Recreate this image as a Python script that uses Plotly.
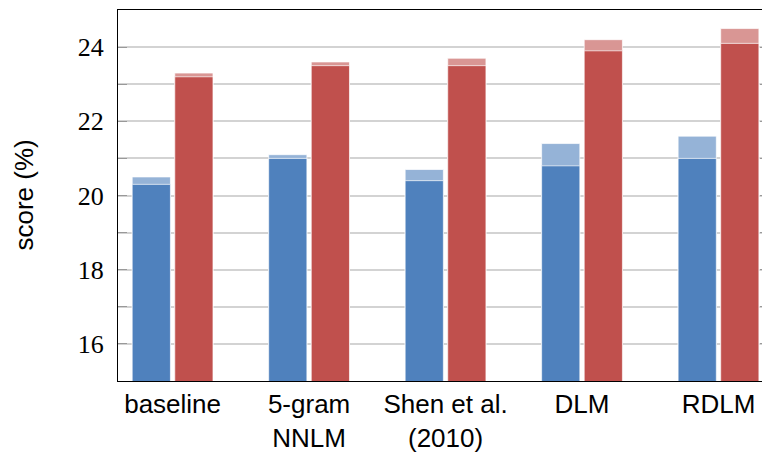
import plotly.graph_objects as go

categories = ["baseline", "5-gram<br>NNLM", "Shen et al.<br>(2010)", "DLM", "RDLM"]
blue_base = [20.3, 21.0, 20.4, 20.8, 21.0]
blue_top = [20.5, 21.1, 20.7, 21.4, 21.6]
red_base = [23.2, 23.5, 23.5, 23.9, 24.1]
red_top = [23.3, 23.6, 23.7, 24.2, 24.5]
y_ticks = [16, 18, 20, 22, 24]

xs = list(range(len(categories)))
W = 0.28
OFF = 0.156

# page body has an 8px margin; compensate so the plot sits where the reference does
PAD = 8
FIG_W, FIG_H = 770 - PAD, 453 - PAD
ML, MR, MT, MB = 118 - PAD, 1, 10 - PAD, 72

fig = go.Figure()
line = dict(color="rgba(255,255,255,0.7)", width=1)
fig.add_trace(go.Bar(x=xs, y=blue_top, width=W, offset=-OFF - W/2, base=0,
                     marker=dict(color="#95B3D7", line=line), showlegend=False))
fig.add_trace(go.Bar(x=xs, y=blue_base, width=W, offset=-OFF - W/2, base=0,
                     marker=dict(color="#4F81BD", line=line), showlegend=False))
fig.add_trace(go.Bar(x=xs, y=red_top, width=W, offset=OFF - W/2, base=0,
                     marker=dict(color="#D99694", line=line), showlegend=False))
fig.add_trace(go.Bar(x=xs, y=red_base, width=W, offset=OFF - W/2, base=0,
                     marker=dict(color="#C0504D", line=line), showlegend=False))

plot_w = FIG_W - ML - MR

fig.update_layout(
    width=FIG_W, height=FIG_H,
    margin=dict(l=ML, r=MR, t=MT, b=MB, autoexpand=False),
    barmode="overlay",
    plot_bgcolor="white", paper_bgcolor="white",
    xaxis=dict(
        range=[-0.40, 4.37],
        tickvals=xs, ticktext=categories,
        tickfont=dict(family="Liberation Sans, Arial, sans-serif", size=26, color="black"),
        showline=True, linecolor="black", linewidth=1.2, mirror=True,
        showgrid=False, ticks="", zeroline=False, ticklabelstandoff=0,
    ),
    yaxis=dict(
        range=[15, 25],
        tickvals=y_ticks,
        tickfont=dict(family="Liberation Serif, serif", size=26, color="black"),
        showline=True, linecolor="black", linewidth=1.2, mirror="ticks",
        showgrid=True, gridcolor="#d3d3d3", gridwidth=1.5,
        ticks="inside", ticklen=9, tickcolor="#999999", tickwidth=1.2,
        minor=dict(dtick=1, tick0=15, showgrid=True, gridcolor="#d3d3d3", gridwidth=1.5,
                   ticks="inside", ticklen=9, tickcolor="#999999", tickwidth=1.2),
        zeroline=False, ticklabelstandoff=8,
    ),
    annotations=[dict(
        text="score (%)", xref="paper", yref="paper",
        x=(23 - 118) / plot_w, y=0.5, xanchor="center", yanchor="middle",
        textangle=-90, showarrow=False,
        font=dict(family="Liberation Sans, Arial, sans-serif", size=26, color="black"),
    )],
)

fig.write_html("out.html")
